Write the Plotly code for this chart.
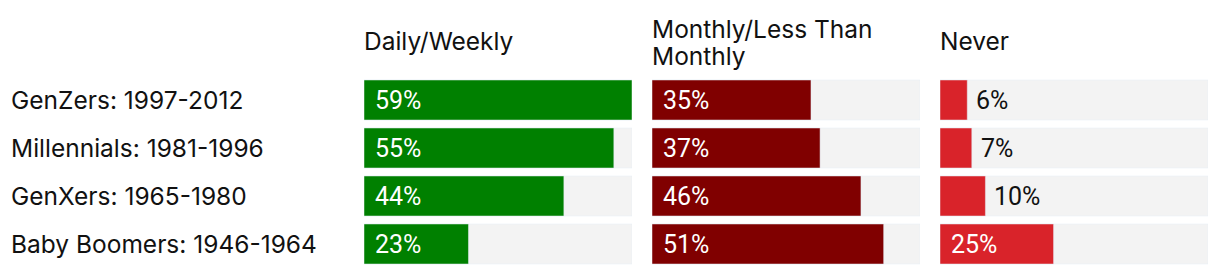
import plotly.graph_objects as go

categories = ["GenZers: 1997-2012", "Millennials: 1981-1996", "GenXers: 1965-1980", "Baby Boomers: 1946-1964"]
header_lines = [["Daily/Weekly"], ["Monthly/Less Than", "Monthly"], ["Never"]]
daily_weekly = [59, 55, 44, 23]
monthly_less = [35, 37, 46, 51]
never = [6, 7, 10, 25]

W, H = 1220, 274
FONT = "Inter"
VFONT = "Roboto"
FS = 24.5
VFS = 25
TXT = "#111111"
colors = ["#008000", "#800000", "#d9232a"]
panels = [daily_weekly, monthly_less, never]
px_left = [364, 652, 940]
px_width = 268
vmax = max(max(p) for p in panels)

fig = go.Figure()
ypos = list(range(len(categories)))

for i, vals in enumerate(panels):
    xa = "x" if i == 0 else f"x{i+1}"
    fig.add_trace(go.Bar(y=ypos, x=[vmax]*len(vals), orientation="h", marker_color="#f3f3f3",
                         width=40/48, xaxis=xa, yaxis="y", hoverinfo="skip", showlegend=False))
    fig.add_trace(go.Bar(y=ypos, x=vals, orientation="h", marker_color=colors[i],
                         width=40/48, xaxis=xa, yaxis="y", showlegend=False))
    for j, v in enumerate(vals):
        inside = v >= 15
        fig.add_annotation(x=0 if inside else v, y=j, xref=xa, yref="y", text=f"{v}%",
                           showarrow=False, xanchor="left", yanchor="middle",
                           xshift=9 if inside else 7,
                           font=dict(family=VFONT, size=VFS, color="white" if inside else TXT))
    lines = header_lines[i]
    if len(lines) == 1:
        centers = [41.5]
    else:
        centers = [29, 56]
    for ln, cy in zip(lines, centers):
        fig.add_annotation(x=px_left[i]/W, y=(H-cy)/H, xref="paper", yref="paper", text=ln,
                           showarrow=False, xanchor="left", yanchor="middle", align="left",
                           xshift=-2,
                           font=dict(family=FONT, size=FS, color=TXT))

for j, c in enumerate(categories):
    fig.add_annotation(x=9/W, y=j, xref="paper", yref="y", text=c, showarrow=False,
                       xanchor="left", yanchor="middle", font=dict(family=FONT, size=FS, color=TXT))

layout = dict(
    width=W, height=H, margin=dict(l=0, r=0, t=0, b=0),
    paper_bgcolor="white", plot_bgcolor="white", barmode="overlay",
    yaxis=dict(domain=[6/H, 198/H], range=[3.5, -0.5], visible=False, fixedrange=True),
)
for i in range(3):
    key = "xaxis" if i == 0 else f"xaxis{i+1}"
    layout[key] = dict(domain=[px_left[i]/W, (px_left[i]+px_width)/W], range=[0, vmax],
                       visible=False, anchor="y", fixedrange=True)
fig.update_layout(**layout)
fig.write_html("out.html")
